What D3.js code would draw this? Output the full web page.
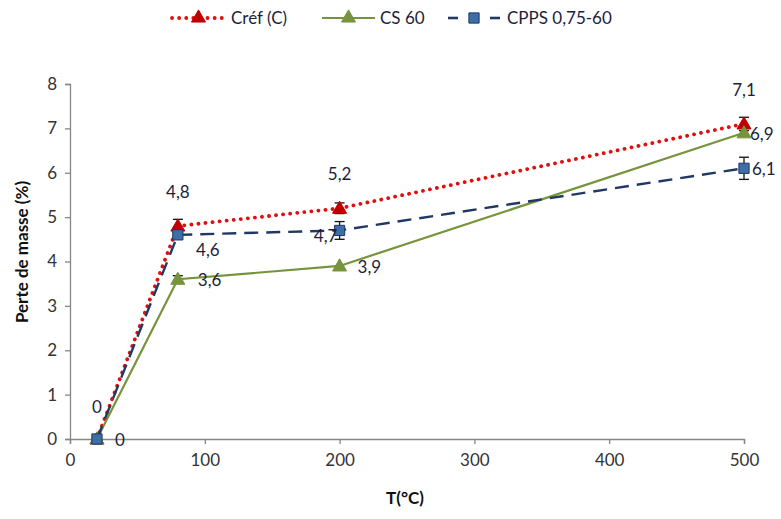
<!DOCTYPE html>
<html><head><meta charset="utf-8">
<script src="https://cdn.jsdelivr.net/npm/d3@7"></script>
<style>body{margin:0;background:#fff}svg{display:block;font-family:Lato,"Open Sans",sans-serif}</style>
</head><body><svg id="c" width="781" height="519"></svg>
<script>
const temps = [20, 80, 200, 500];
const cref = [0, 4.8, 5.2, 7.1];
const crefErr = [0, 0.15, 0.12, 0.15];
const cs60 = [0, 3.6, 3.9, 6.9];
const cs60Err = [0, 0.08, 0, 0];
const cpps = [0, 4.6, 4.7, 6.1];
const cppsErr = [0, 0, 0.2, 0.25];
const seriesNames = ["Créf (C)", "CS 60", "CPPS 0,75-60"];
const xTicks = [0, 100, 200, 300, 400, 500];
const yTicks = [0, 1, 2, 3, 4, 5, 6, 7, 8];

const svg = d3.select("#c");
const x = d3.scaleLinear().domain([0, 500]).range([70, 744]);
const y = d3.scaleLinear().domain([0, 8]).range([439, 84]);
const axisCol = "#868686";

const yAx = svg.append("g").attr("transform", "translate(70,0)")
  .call(d3.axisLeft(y).tickValues(yTicks).tickSize(5).tickPadding(8));
const xAx = svg.append("g").attr("transform", "translate(0,439)")
  .call(d3.axisBottom(x).tickValues(xTicks).tickSize(5).tickPadding(10));
[yAx, xAx].forEach(a => {
  a.selectAll("path,line").attr("stroke", axisCol).attr("stroke-width", 1.3);
  a.selectAll("text").attr("fill", "#333").style("font-size", "17px").style("font-family", "Lato,sans-serif");
});

svg.append("text").attr("transform", "translate(28,252) rotate(-90)").attr("text-anchor", "middle")
  .style("font-size", "17px").style("font-weight", "bold").attr("fill", "#111").text("Perte de masse (%)");
svg.append("text").attr("x", 405).attr("y", 504).attr("text-anchor", "middle")
  .style("font-size", "17px").style("font-weight", "bold").attr("fill", "#111").text("T(°C)");

const series = [
  {name: seriesNames[0], vals: cref, err: crefErr, color: "#e01010", dash: "0.1,7", width: 3.8, cap: "round", marker: "tri", mfill: "#c00000"},
  {name: seriesNames[1], vals: cs60, err: cs60Err, color: "#77933c", dash: null, width: 2.2, cap: "butt", marker: "tri", mfill: "#77933c"},
  {name: seriesNames[2], vals: cpps, err: cppsErr, color: "#1f3864", dash: "14,8", width: 2.4, cap: "butt", marker: "sq", mfill: "#3e6ea8"}
];
const line = d3.line().x(d => x(d[0])).y(d => y(d[1]));
const triPath = d3.symbol().type(d3.symbolTriangle).size(85);
const sqPath = d3.symbol().type(d3.symbolSquare).size(105);

series.forEach(s => {
  const pts = temps.map((t, i) => [t, s.vals[i]]);
  svg.append("path").datum(pts).attr("d", line).attr("fill", "none")
    .attr("stroke", s.color).attr("stroke-width", s.width)
    .attr("stroke-dasharray", s.dash).attr("stroke-linecap", s.cap);
});
// error bars
series.forEach(s => {
  temps.forEach((t, i) => {
    const e = s.err[i]; if (!e) return;
    const g = svg.append("g").attr("stroke", "#111").attr("stroke-width", 1.3);
    g.append("line").attr("x1", x(t)).attr("x2", x(t)).attr("y1", y(s.vals[i] - e)).attr("y2", y(s.vals[i] + e));
    [-1, 1].forEach(k => g.append("line").attr("x1", x(t) - 5).attr("x2", x(t) + 5)
      .attr("y1", y(s.vals[i] + k * e)).attr("y2", y(s.vals[i] + k * e)));
  });
});
// markers
series.forEach(s => {
  temps.forEach((t, i) => {
    svg.append("path").attr("d", s.marker === "tri" ? triPath() : sqPath())
      .attr("transform", `translate(${x(t)},${y(s.vals[i]) + (s.marker === "tri" ? 1 : 0)})`)
      .attr("fill", s.mfill).attr("stroke", s.marker === "sq" ? "#1f3864" : s.mfill).attr("stroke-width", 1);
  });
});

// data labels
const lab = (px, py, txt, anchor) => svg.append("text").attr("x", px).attr("y", py)
  .attr("text-anchor", anchor || "middle").style("font-size", "17px").attr("fill", "#1e1e3a").text(txt);
const fmt = v => String(v).replace(".", ",");
// Créf: above
temps.forEach((t, i) => lab(x(t), y(cref[i]) - (i === 0 ? 26 : 28), fmt(cref[i])));
// CS 60: right
const csOff = [18, 20, 18, 6];
temps.forEach((t, i) => lab(x(t) + csOff[i], y(cs60[i]) + 7, fmt(cs60[i]), "start"));
// CPPS: positions
lab(x(temps[1]) + 30, y(cpps[1]) + 21, fmt(cpps[1]));
lab(x(temps[2]) - 14, y(cpps[2]) + 12, fmt(cpps[2]));
lab(x(temps[3]) + 8, y(cpps[3]) + 7, fmt(cpps[3]), "start");

// legend
const lg = svg.append("g");
const items = [{x0: 172, x1: 225, tx: 231}, {x0: 322, x1: 375, tx: 380}, {x0: 448, x1: 500, tx: 507}];
items.forEach((it, k) => {
  const s = series[k]; const ly = 18; const mx = (it.x0 + it.x1) / 2;
  if (k === 2) {
    lg.append("line").attr("x1", it.x0).attr("x2", it.x0 + 10).attr("y1", ly).attr("y2", ly).attr("stroke", s.color).attr("stroke-width", 2.6);
    lg.append("line").attr("x1", it.x1 - 10).attr("x2", it.x1).attr("y1", ly).attr("y2", ly).attr("stroke", s.color).attr("stroke-width", 2.6);
  } else {
    lg.append("line").attr("x1", it.x0).attr("x2", it.x1).attr("y1", ly).attr("y2", ly)
      .attr("stroke", s.color).attr("stroke-width", s.width).attr("stroke-dasharray", s.dash).attr("stroke-linecap", s.cap);
  }
  lg.append("path").attr("d", s.marker === "tri" ? triPath() : sqPath())
    .attr("transform", `translate(${mx},${ly})`).attr("fill", s.mfill)
    .attr("stroke", s.marker === "sq" ? "#1f3864" : s.mfill);
  lg.append("text").attr("x", it.tx).attr("y", ly + 6).style("font-size", "17px").attr("fill", "#1e1e3a").text(s.name);
});
</script></body></html>
